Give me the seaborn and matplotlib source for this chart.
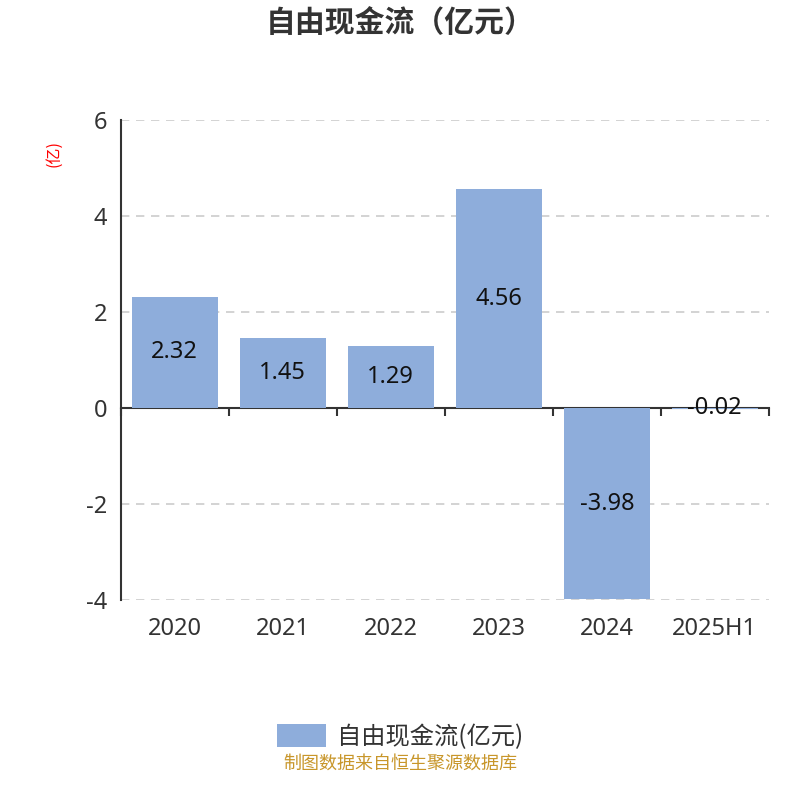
import matplotlib
matplotlib.use("Agg")
import matplotlib.pyplot as plt
import seaborn as sns
import pandas as pd

# data
years = ["2020", "2021", "2022", "2023", "2024", "2025H1"]
fcf = [2.32, 1.45, 1.29, 4.56, -3.98, -0.02]
yticks = [-4, -2, 0, 2, 4, 6]

df = pd.DataFrame({"year": years, "fcf": fcf})

sns.set_style("white")
plt.rcParams["font.family"] = ["Noto Sans", "Noto Sans CJK SC", "DejaVu Sans"]
plt.rcParams["axes.unicode_minus"] = False
cjk = ["Noto Sans CJK SC", "DejaVu Sans"]

fig = plt.figure(figsize=(8, 8), dpi=100, facecolor="white")
ax = fig.add_axes([0.151, 0.25, 0.81, 0.60])

bar_color = "#8EADDB"
sns.barplot(data=df, x="year", y="fcf", color=bar_color, width=0.8,
            saturation=1, linewidth=0, ax=ax, zorder=2)

# value labels in the middle of each bar
for i, v in enumerate(fcf):
    ax.text(i, v / 2, f"{v:.2f}", ha="center", va="center",
            fontsize=17, color="#111111", zorder=4)

ax.set_xlim(-0.5, len(years) - 0.5)
ax.set_ylim(-4, 6)
ax.set_yticks(yticks)
ax.set_xlabel("")
ax.set_ylabel("(亿)", color="red", fontsize=11.5, family=cjk)
ax.yaxis.set_label_coords(-0.09, 0.93)

# dashed grid
for t in yticks:
    if t != 0:
        ax.axhline(t, color="#cccccc", lw=1.2, ls=(0, (5, 4)), zorder=1)

for s in ["top", "right", "bottom"]:
    ax.spines[s].set_visible(False)
ax.spines["left"].set_color("#333333")
ax.spines["left"].set_linewidth(1.5)

ax.tick_params(axis="y", length=6, width=1.5, color="#333333",
               labelsize=17, labelcolor="#333333", pad=4)
ax.tick_params(axis="x", length=0, labelsize=17, labelcolor="#333333", pad=12)

# zero axis line with ticks between categories
zero = ax.secondary_xaxis(0.4)
zero.set_xticks([i - 0.5 for i in range(len(years) + 1)])
zero.set_xticklabels([])
zero.tick_params(length=6, width=1.5, color="#333333", direction="out")
zero.spines["bottom"].set_color("#333333")
zero.spines["bottom"].set_linewidth(1.5)

fig.text(0.5, 0.971, "自由现金流（亿元）", ha="center", va="center",
         fontsize=21.5, fontweight="bold", color="#333333", family=cjk)

# legend
legend_patch = plt.Rectangle((0, 0), 1, 1, facecolor=bar_color, edgecolor="none")
fig.legend([legend_patch], ["自由现金流(亿元)"], loc="center",
           bbox_to_anchor=(0.5, 0.079), frameon=False,
           prop={"family": cjk, "size": 17.5},
           handlelength=2.0, handleheight=1.1, handletextpad=0.45,
           labelcolor="#333333")

fig.text(0.5, 0.045, "制图数据来自恒生聚源数据库", ha="center", va="center",
         fontsize=13, color="#C8962A", family=cjk)

fig.savefig("out.png", dpi=100, facecolor="white")
